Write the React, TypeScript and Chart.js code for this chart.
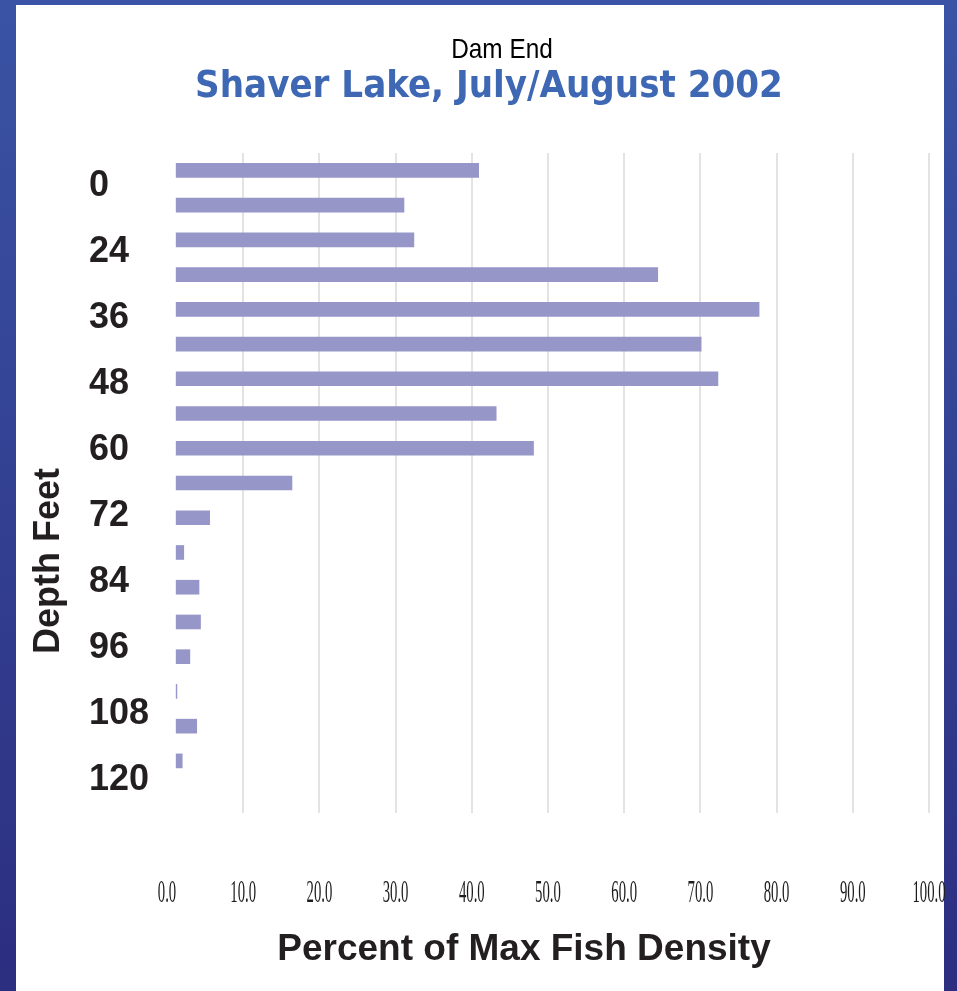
import React, { useEffect, useRef } from "react";
import { Chart, registerables } from "chart.js";

Chart.register(...registerables);

// ---- text ----
const titleTop = "Dam End";
const titleMain = "Shaver Lake, July/August 2002";
const xAxisTitle = "Percent of Max Fish Density";
const yAxisTitle = "Depth Feet";

// ---- y tick labels (depth, feet) ----
const depthLabels = ["0", "24", "36", "48", "60", "72", "84", "96", "108", "120"];

// ---- bar categories (depth bins, top to bottom) + one empty slot at the bottom ----
const binLabels = [
  "bin 1", "bin 2", "bin 3", "bin 4", "bin 5", "bin 6", "bin 7", "bin 8", "bin 9",
  "bin 10", "bin 11", "bin 12", "bin 13", "bin 14", "bin 15", "bin 16", "bin 17", "bin 18", "",
];

// ---- series: percent of max fish density ----
const densityValues = [
  40.9, 31.1, 32.4, 64.4, 77.7, 70.1, 72.3, 43.2, 48.1,
  16.4, 5.6, 2.2, 4.2, 4.4, 3.0, 1.3, 3.9, 2.0,
];

// ---- x axis range ----
const xMin = 0;
const xMax = 100;
const xStep = 10;

const extraTextPlugin = {
  id: "extraText",
  afterDraw(chart: any) {
    const { ctx, chartArea, scales } = chart;
    const xs = scales.x;
    ctx.save();
    ctx.textAlign = "center";
    ctx.textBaseline = "middle";

    // small top title, narrow face
    ctx.fillStyle = "#000000";
    ctx.font = '28px "Liberation Sans", Arial, sans-serif';
    ctx.save();
    ctx.translate(chartArea.left + 335, chartArea.top - 103);
    ctx.scale(0.87, 1);
    ctx.fillText(titleTop, 0, 0);
    ctx.restore();

    // x tick labels, condensed serif
    ctx.fillStyle = "#1c1c1c";
    ctx.font = '32px "Liberation Serif", "Times New Roman", serif';
    xs.ticks.forEach((t: any) => {
      const px = xs.getPixelForValue(t.value);
      ctx.save();
      ctx.translate(px, chartArea.bottom + 81);
      ctx.scale(0.46, 1);
      ctx.fillText(Number(t.value).toFixed(1), 0, 0);
      ctx.restore();
    });

    // axis titles
    ctx.fillStyle = "#231f20";
    ctx.font = 'bold 37px "Liberation Sans", Arial, sans-serif';
    ctx.fillText(xAxisTitle, (chartArea.left + chartArea.right) / 2 - 24, chartArea.bottom + 137);
    ctx.font = 'bold 36px "Liberation Sans", Arial, sans-serif';
    ctx.save();
    ctx.translate(chartArea.left - 118, (chartArea.top + chartArea.bottom) / 2 + 78);
    ctx.rotate(-Math.PI / 2);
    ctx.fillText(yAxisTitle, 0, 0);
    ctx.restore();
    ctx.restore();
  },
};

export default function App() {
  const ref = useRef<HTMLCanvasElement | null>(null);

  useEffect(() => {
    if (!ref.current) return;
    const chart = new Chart(ref.current, {
      type: "bar",
      data: {
        labels: binLabels,
        datasets: [
          {
            data: densityValues,
            backgroundColor: "#9696c8",
            borderWidth: 0,
            barThickness: 14,
            base: 1.2,
            yAxisID: "y",
          } as any,
        ],
      },
      options: {
        indexAxis: "y",
        responsive: false,
        animation: false,
        layout: { padding: { left: 49, right: 28, top: 10, bottom: 178 } },
        plugins: {
          legend: { display: false },
          tooltip: { enabled: false },
          title: { display: false },
          subtitle: {
            display: true,
            text: titleMain,
            color: "#3e67b4",
            font: { family: '"DejaVu Sans Condensed", "DejaVu Sans", Tahoma, sans-serif', size: 38, weight: "bold", lineHeight: 1 },
            padding: { top: 58, bottom: 47 },
          },
        },
        scales: {
          x: {
            type: "linear",
            min: xMin,
            max: xMax,
            ticks: { display: false, stepSize: xStep },
            grid: {
              color: (c: any) => (c.tick && c.tick.value === 0 ? "rgba(0,0,0,0)" : "#e3e3e3"),
              lineWidth: 2,
              drawTicks: false,
            },
            border: { display: false },
          },
          y: {
            type: "category",
            offset: true,
            weight: 1,
            ticks: { display: false },
            grid: { display: false },
            border: { display: false },
            afterFit: (s: any) => {
              s.width = 40;
            },
          },
          y2: {
            type: "category",
            axis: "y",
            position: "left",
            labels: depthLabels,
            offset: true,
            weight: 0,
            grid: { display: false },
            border: { display: false },
            ticks: {
              crossAlign: "far",
              color: "#231f20",
              font: { family: '"Liberation Sans", Arial, sans-serif', size: 36, weight: "bold" },
            },
            afterFit: (s: any) => {
              s.width = 78;
            },
          },
        } as any,
      },
      plugins: [extraTextPlugin],
    });
    return () => chart.destroy();
  }, []);

  return (
    <div
      style={{
        position: "absolute",
        left: 0,
        top: 0,
        width: 957,
        height: 991,
        background: "linear-gradient(to bottom, #3a53a4, #2c2e80)",
        overflow: "hidden",
      }}
    >
      <div style={{ position: "absolute", left: 16, top: 5, width: 928, height: 986, background: "#ffffff" }} />
      <canvas
        ref={ref}
        width={957}
        height={991}
        style={{ position: "absolute", left: 0, top: 0, width: 957, height: 991 }}
      />
    </div>
  );
}
